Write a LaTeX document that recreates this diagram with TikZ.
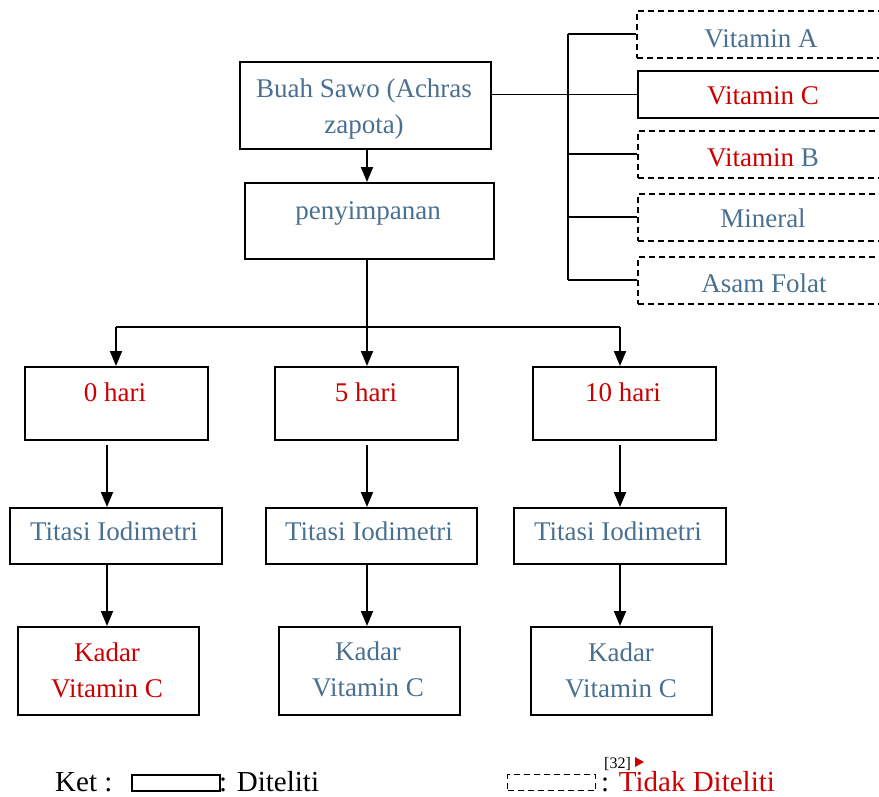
\documentclass[tikz,border=0pt]{standalone}
\usepackage{fontspec}
\setmainfont{Liberation Serif}
\usetikzlibrary{arrows.meta}
\definecolor{tblue}{RGB}{74,112,145}
\definecolor{tred}{RGB}{204,0,0}
\tikzset{
  box/.style={draw=black, line width=2pt, rectangle, inner sep=0pt, anchor=north west},
  dbox/.style={box, dash pattern=on 6pt off 4pt, line width=1.8pt},
  txt/.style={font=\fontsize{27}{36}\selectfont, inner sep=0pt, anchor=base, align=center},
  ltxt/.style={font=\fontsize{29}{30}\selectfont, inner sep=0pt, anchor=base},
  conn/.style={draw=black, line width=1.9pt},
  arr/.style={conn, -{Triangle[length=15pt,width=12pt]}},
}
\begin{document}
\begin{tikzpicture}[x=1pt,y=-1pt]
\useasboundingbox (0,0) rectangle (879,796);
\clip (0,0) rectangle (879,796);
% top boxes
\node[box, minimum width=251pt, minimum height=87pt] (buah) at (239,61) {};
\node[box, minimum width=249pt, minimum height=76pt] (peny) at (244,182) {};
\node[txt, text=tblue] (tbuah) at (364,133) {Buah Sawo (Achras\\zapota)};
\node[txt, text=tblue] (tpeny) at (368,219) {penyimpanan};
% right column
\node[dbox, minimum width=260pt, minimum height=47pt] (va) at (636,10) {};
\node[box, minimum width=260pt, minimum height=47pt] (vc) at (637,70) {};
\node[dbox, minimum width=260pt, minimum height=47pt] (vb) at (637,130) {};
\node[dbox, minimum width=260pt, minimum height=47pt] (mn) at (637,193) {};
\node[dbox, minimum width=260pt, minimum height=47pt] (af) at (637,256) {};
\node[txt, text=tblue] (tva) at (761,47) {Vitamin A};
\node[txt, text=tred] (tvc) at (763,104) {Vitamin C};
\node[txt] (tvb) at (763,166) {\textcolor{tred}{Vitamin} \textcolor{tblue}{B}};
\node[txt, text=tblue] (tmn) at (763,227) {Mineral};
\node[txt, text=tblue] (taf) at (764,292) {Asam Folat};
\coordinate (bus) at (568,0);
\draw[conn] (va.west -| bus) -- (af.west -| bus);
\draw[conn] (buah.east |- vc.west) -- (vc.west -| bus);
\draw[conn] (va.west -| bus) -- (va.west);
\draw[conn] (vc.west -| bus) -- (vc.west);
\draw[conn] (vb.west -| bus) -- (vb.west);
\draw[conn] (mn.west -| bus) -- (mn.west);
\draw[conn] (af.west -| bus) -- (af.west);
% columns
\coordinate (c1) at (107,0);
\coordinate (c2) at (367,0);
\coordinate (c3) at (620,0);
\coordinate (a1) at (116,0);
\coordinate (lev) at (0,327);
\draw[arr] (buah.south -| c2) -- (peny.north -| c2);
% hari boxes
\node[box, minimum width=183pt, minimum height=73pt] (h0) at (24,366) {};
\node[box, minimum width=183pt, minimum height=73pt] (h5) at (274,366) {};
\node[box, minimum width=183pt, minimum height=73pt] (h10) at (532,366) {};
\node[txt, text=tred] (th0) at (115,401) {0 hari};
\node[txt, text=tred] (th5) at (366,401) {5 hari};
\node[txt, text=tred] (th10) at (623,401) {10 hari};
\draw[arr] (peny.south -| c2) -- (h5.north -| c2);
\draw[conn] (lev -| a1) -- (lev -| c3);
\draw[arr] (lev -| a1) -- (h0.north -| a1);
\draw[arr] (lev -| c3) -- (h10.north -| c3);
% titasi
\node[box, minimum width=212pt, minimum height=56pt] (t0) at (9,507) {};
\node[box, minimum width=211pt, minimum height=56pt] (t5) at (265,507) {};
\node[box, minimum width=212pt, minimum height=56pt] (t10) at (513,507) {};
\node[txt, text=tblue] (tt0) at (114,540) {Titasi Iodimetri};
\node[txt, text=tblue] (tt5) at (369,540) {Titasi Iodimetri};
\node[txt, text=tblue] (tt10) at (618,540) {Titasi Iodimetri};
\draw[arr] ([yshift=-4pt]h0.south -| c1) -- (t0.north -| c1);
\draw[arr] ([yshift=-4pt]h5.south -| c2) -- (t5.north -| c2);
\draw[arr] ([yshift=-4pt]h10.south -| c3) -- (t10.north -| c3);
% kadar
\node[box, minimum width=181pt, minimum height=88pt] (k0) at (17,626) {};
\node[box, minimum width=181pt, minimum height=88pt] (k5) at (278,626) {};
\node[box, minimum width=181pt, minimum height=88pt] (k10) at (530,626) {};
\node[txt, text=tred] (tk0) at (107,697) {Kadar\\Vitamin C};
\node[txt, text=tblue] (tk5) at (368,696) {Kadar\\Vitamin C};
\node[txt, text=tblue] (tk10) at (621,697) {Kadar\\Vitamin C};
\draw[arr] (t0.south -| c1) -- (k0.north -| c1);
\draw[arr] (t5.south -| c2) -- (k5.north -| c2);
\draw[arr] (t10.south -| c3) -- (k10.north -| c3);
% legend
\node[ltxt, anchor=base west] (ket) at (55,791) {Ket :};
\node[box, line width=1.6pt, minimum width=88pt, minimum height=16pt] (lsolid) at (131,774) {};
\node[ltxt, anchor=base west] (ldit) at (219,791) {: Diteliti};
\node[dbox, line width=1.4pt, dash pattern=on 6pt off 4pt, minimum width=88pt, minimum height=16pt] (ldash) at (507,774) {};
\node[ltxt, anchor=base west] (ltd) at (601,791) {: \textcolor{tred}{Tidak Diteliti}};
\node[font=\fontsize{16}{18}\selectfont, inner sep=0pt, anchor=base west] (ref) at (604,768) {[32]};
\fill[tred] (635,757) -- (644,762) -- (635,767) -- cycle;
\end{tikzpicture}
\end{document}
